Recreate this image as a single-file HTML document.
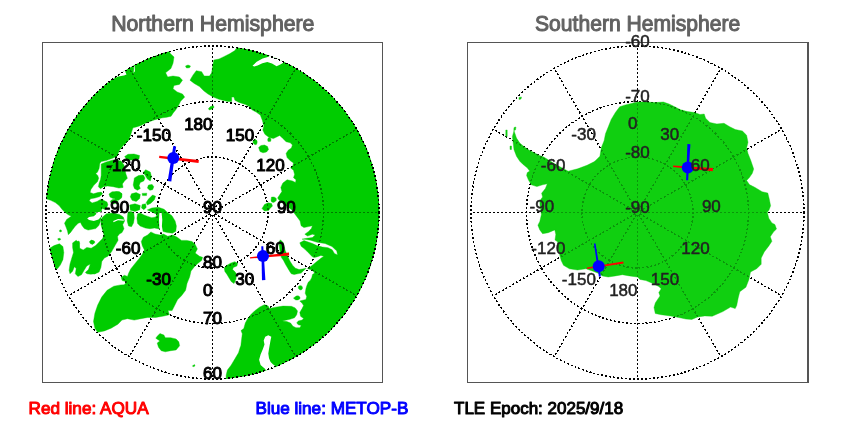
<!DOCTYPE html>
<html><head><meta charset="utf-8"><title>Satellite polar plot</title>
<style>html,body{margin:0;padding:0;background:#fff;overflow:hidden}body{width:850px;height:425px;font-family:"Liberation Sans",sans-serif}svg{display:block;will-change:transform}text{font-family:"Liberation Sans",sans-serif}.lb{font-size:17px;fill:#000;stroke:#000;stroke-width:1.05px;stroke-linejoin:round}.ls{font-size:17px;fill:#222;stroke:#222;stroke-width:.5px;stroke-linejoin:round}.ft{font-size:17px;stroke-width:1.0px;stroke-linejoin:round}.tt{font-size:22px;fill:#626262;stroke:#626262;stroke-width:1.05px;stroke-linejoin:round}.g{fill:none;stroke:#000;stroke-width:1.5;stroke-dasharray:2 2;shape-rendering:crispEdges}.land{fill:#00cc00;stroke:#00cc00;stroke-width:.4;stroke-linejoin:round}.fr{fill:none;stroke:#555;stroke-width:1;shape-rendering:crispEdges}</style></head><body>
<svg width="850" height="425" viewBox="0 0 850 425">
<rect width="850" height="425" fill="#fff"/>
<defs><clipPath id="cn"><circle cx="212.5" cy="212.5" r="167"/></clipPath><clipPath id="cs"><circle cx="637.5" cy="212.5" r="167"/></clipPath></defs>
<g class="g">
<circle cx="212.5" cy="212.5" r="166.50"/>
<circle cx="212.5" cy="212.5" r="111.00"/>
<circle cx="212.5" cy="212.5" r="55.50"/>
<line x1="212.50" y1="215.00" x2="212.50" y2="379.00"/>
<line x1="213.75" y1="214.67" x2="295.75" y2="356.69"/>
<line x1="214.67" y1="213.75" x2="356.69" y2="295.75"/>
<line x1="215.00" y1="212.50" x2="379.00" y2="212.50"/>
<line x1="214.67" y1="211.25" x2="356.69" y2="129.25"/>
<line x1="213.75" y1="210.33" x2="295.75" y2="68.31"/>
<line x1="212.50" y1="210.00" x2="212.50" y2="46.00"/>
<line x1="211.25" y1="210.33" x2="129.25" y2="68.31"/>
<line x1="210.33" y1="211.25" x2="68.31" y2="129.25"/>
<line x1="210.00" y1="212.50" x2="46.00" y2="212.50"/>
<line x1="210.33" y1="213.75" x2="68.31" y2="295.75"/>
<line x1="211.25" y1="214.67" x2="129.25" y2="356.69"/>
</g>
<g class="g">
<circle cx="637.5" cy="212.5" r="166.50"/>
<circle cx="637.5" cy="212.5" r="111.00"/>
<circle cx="637.5" cy="212.5" r="55.50"/>
<line x1="637.50" y1="215.00" x2="637.50" y2="379.00"/>
<line x1="638.75" y1="214.67" x2="720.75" y2="356.69"/>
<line x1="639.67" y1="213.75" x2="781.69" y2="295.75"/>
<line x1="640.00" y1="212.50" x2="804.00" y2="212.50"/>
<line x1="639.67" y1="211.25" x2="781.69" y2="129.25"/>
<line x1="638.75" y1="210.33" x2="720.75" y2="68.31"/>
<line x1="637.50" y1="210.00" x2="637.50" y2="46.00"/>
<line x1="636.25" y1="210.33" x2="554.25" y2="68.31"/>
<line x1="635.33" y1="211.25" x2="493.31" y2="129.25"/>
<line x1="635.00" y1="212.50" x2="471.00" y2="212.50"/>
<line x1="635.33" y1="213.75" x2="493.31" y2="295.75"/>
<line x1="636.25" y1="214.67" x2="554.25" y2="356.69"/>
</g>
<g clip-path="url(#cn)" class="land">
<path d="M169.8,45.0 169.8,53.1 174.0,57.0 173.0,63.3 170.9,68.6 165.6,72.8 167.7,77.0 173.0,76.0 179.4,77.0 182.5,80.2 179.4,84.4 174.0,85.5 173.0,88.7 177.2,91.9 182.5,94.0 184.7,97.1 180.6,101.3 178.5,105.6 175.8,109.8 173.2,113.0 171.1,116.2 166.9,117.2 162.6,117.8 158.4,118.8 154.2,119.9 149.9,121.5 145.7,123.0 141.5,125.2 137.2,126.7 133.0,127.8 131.9,131.0 130.9,134.2 129.8,137.3 128.8,140.0 126.0,143.0 123.6,145.0 119.6,150.0 116.8,156.4 111.8,158.5 106.2,160.6 101.2,161.6 99.8,163.4 99.1,168.4 97.4,172.3 95.7,173.4 97.7,175.4 98.7,178.2 97.4,181.8 93.8,185.3 90.9,189.5 90.1,192.4 93.5,193.8 97.7,192.6 101.2,192.1 102.6,193.8 99.8,196.6 94.9,198.0 90.6,198.7 89.2,200.8 92.1,202.9 97.0,201.5 100.5,199.4 102.6,200.8 103.0,203.0 102.0,208.0 101.0,214.0 101.1,217.9 100.4,221.7 98.8,225.5 95.8,228.6 92.0,229.3 88.1,230.1 84.3,228.6 82.0,225.5 80.5,222.4 78.2,223.2 75.2,226.3 72.9,229.3 70.6,232.4 68.3,234.7 67.5,230.9 66.0,227.0 64.5,223.2 66.7,219.4 71.3,216.3 68.3,214.8 65.2,212.5 62.2,209.5 59.1,205.6 55.3,202.6 50.7,200.3 46.1,198.8 38.0,198.0 30.0,120.0 60.0,50.0 120.0,30.0Z"/>
<path d="M190.0,80.2 193.1,74.9 196.3,70.7 201.6,71.7 204.2,76.0 209.5,76.0 211.6,72.8 212.7,66.5 213.8,60.1 219.0,59.0 223.3,56.9 229.6,53.8 234.9,50.6 239.2,44.0 300.0,40.0 385.0,120.0 392.0,212.0 385.0,300.0 330.0,372.0 262.0,395.0 226.0,392.0 226.2,375.0 227.4,370.1 231.1,365.2 234.8,359.0 238.5,352.8 240.3,347.0 240.8,346.0 241.5,339.9 242.3,333.8 241.0,330.6 243.8,328.4 245.3,323.0 247.2,319.5 250.9,314.6 254.6,310.9 259.5,307.2 264.4,304.7 268.1,305.9 269.4,308.4 275.6,307.2 283.0,306.1 291.4,306.3 295.2,307.9 297.5,310.9 296.7,314.7 294.5,317.8 289.9,319.3 282.2,320.9 286.8,321.6 290.6,323.1 292.9,326.2 296.0,327.7 299.8,327.7 301.3,325.4 298.3,324.7 296.7,323.1 298.3,320.9 302.1,320.1 303.6,318.6 300.6,316.3 299.8,312.4 302.1,308.6 303.6,305.6 302.1,303.3 299.8,301.0 302.9,300.2 305.9,299.5 306.7,296.4 305.2,293.3 305.9,288.8 306.8,285.8 308.2,282.3 310.4,280.2 311.8,277.4 312.5,274.5 314.6,273.1 313.2,271.0 310.4,269.6 307.5,268.6 310.4,266.8 313.9,263.9 317.4,261.1 320.9,258.3 323.8,256.2 320.9,255.5 316.7,256.9 313.9,257.6 311.8,256.2 308.2,252.6 304.7,249.1 301.2,246.3 299.8,242.8 304.0,240.6 308.2,242.0 312.5,243.5 316.7,245.6 322.4,247.0 328.0,247.7 332.2,249.8 334.4,253.4 337.5,255.0 336.8,251.0 332.0,246.5 325.0,243.5 317.1,242.3 310.5,240.2 304.8,239.2 302.0,239.2 306.7,238.3 312.4,237.6 315.2,235.1 312.4,234.2 307.6,236.1 304.8,234.2 308.6,231.4 311.4,228.5 312.4,225.7 308.6,226.6 303.9,227.6 301.1,225.7 300.1,221.0 297.3,217.2 294.5,213.5 292.0,210.0 285.0,205.0 279.0,200.0 277.6,198.0 279.7,194.8 281.9,191.6 280.8,187.4 282.9,183.0 287.1,179.8 292.4,180.9 295.5,182.5 296.0,179.8 293.5,177.7 294.6,174.6 293.5,170.3 290.5,167.8 292.4,167.1 293.5,162.9 290.3,160.8 287.1,157.6 286.1,153.4 288.2,150.2 291.4,148.1 292.4,144.9 290.3,142.8 286.1,141.7 282.9,138.6 279.7,135.4 277.6,136.5 273.4,138.6 269.2,137.5 264.9,134.3 262.8,130.1 263.9,125.9 263.5,124.7 262.4,120.4 260.3,115.1 256.1,112.0 251.9,109.8 249.7,106.7 245.5,104.6 239.2,102.4 234.9,100.3 233.9,97.1 231.7,97.1 231.7,101.4 227.5,101.4 219.0,99.3 213.2,97.1 208.0,94.0 203.7,90.8 199.5,86.6 194.2,83.4Z"/>
<path d="M185.5,66.0 188.0,65.0 190.5,66.0 189.5,67.8 186.5,68.0Z"/>
<path d="M208.5,108.5 210.5,106.5 213.5,105.8 214.0,107.5 211.5,109.3 209.2,110.0Z"/>
<path d="M257.1,142.7 256.6,144.3 255.1,144.7 253.9,143.8 253.0,142.8 253.2,141.2 254.0,139.9 255.4,139.3 256.5,140.3 257.1,141.4Z"/>
<path d="M258.6,147.5 261.0,145.5 264.5,145.0 267.5,146.5 268.5,149.5 266.5,152.0 263.0,152.8 260.0,151.5Z"/>
<path d="M271.0,139.8 270.7,141.3 269.7,141.5 268.9,141.6 267.9,141.2 267.7,139.8 268.0,138.3 268.9,137.8 269.8,137.5 270.6,138.4Z"/>
<path d="M276.1,198.6 276.4,200.2 275.2,201.6 273.5,202.4 271.7,202.0 271.1,200.4 271.2,199.0 271.5,197.1 273.5,197.0 275.1,197.4Z"/>
<path d="M262.0,208.5 264.5,204.5 268.0,202.8 271.5,203.5 272.5,206.0 270.0,208.5 268.5,210.5 264.5,211.0Z"/>
<path d="M280.4,239.8 283.2,242.6 285.1,250.2 287.9,256.8 289.9,261.1 292.7,265.4 295.5,268.2 299.1,269.6 302.6,268.9 306.1,268.2 303.3,271.0 301.2,273.1 297.6,273.8 294.1,274.5 291.3,273.8 289.9,271.7 287.8,268.2 285.6,264.6 283.5,260.4 281.4,257.6 280.3,253.0 279.2,245.5 279.2,241.7Z"/>
<path d="M302.6,288.0 302.1,289.1 301.2,290.0 299.9,289.8 298.9,289.1 298.3,288.0 298.4,286.5 299.7,285.7 301.3,285.7 302.2,286.8Z"/>
<path d="M300.1,297.9 299.6,299.1 298.0,299.9 295.9,300.0 294.4,299.1 293.5,297.9 295.0,297.0 296.1,296.1 298.1,295.8 299.6,296.7Z"/>
<path d="M224.2,268.1 227.0,265.3 230.5,263.2 234.8,261.7 237.6,263.2 236.9,266.0 233.3,267.4 232.6,269.5 234.8,271.6 236.5,274.0 236.0,279.0 234.0,283.6 231.2,281.5 229.1,278.0 227.0,274.4 224.9,271.6Z"/>
<path d="M141.3,241.5 143.4,237.2 147.6,235.1 150.8,231.9 155.0,234.0 160.3,235.1 163.5,234.0 167.7,236.2 173.0,235.1 177.2,237.2 181.5,240.4 186.8,240.4 192.1,241.5 195.2,244.6 197.4,248.9 195.2,253.1 199.5,256.3 202.6,257.3 201.6,260.5 197.4,263.7 194.2,266.9 191.0,271.1 189.7,276.8 187.0,283.5 185.6,290.3 181.5,295.7 177.5,299.8 174.8,305.2 172.1,310.6 168.0,310.6 169.4,314.7 163.9,316.0 155.8,317.4 147.7,317.4 140.9,318.7 134.2,320.1 127.4,318.7 122.0,320.1 117.9,324.2 111.1,328.2 104.4,330.9 97.6,332.3 94.9,328.2 93.5,321.4 94.9,313.3 97.6,305.2 101.7,297.1 107.1,290.3 113.8,286.2 120.6,284.9 124.3,284.8 126.5,281.7 122.2,280.6 121.2,277.4 124.3,275.3 127.5,276.4 128.6,273.2 130.7,269.0 134.9,263.7 139.2,258.4 142.3,254.2 144.4,249.9 142.3,245.7Z"/>
<path d="M157.2,336.3 159.9,333.6 163.9,335.0 165.3,337.7 170.7,337.7 176.1,339.0 178.8,341.8 179.6,345.8 176.1,349.9 170.7,350.7 165.3,351.8 161.2,350.7 158.5,347.2 157.2,343.1 159.9,340.9 155.8,338.2Z"/>
<path d="M192.5,365.8 194.5,364.6 195.0,366.0 193.0,366.8Z"/>
<path d="M147.3,209.9 151.8,208.0 158.3,207.3 164.1,209.2 167.4,212.5 171.9,215.7 175.1,220.9 176.4,226.1 175.8,231.3 172.5,233.2 167.4,232.6 162.2,231.3 158.3,228.7 154.4,228.0 149.9,228.7 145.3,228.0 140.2,226.1 137.6,223.5 136.9,218.3 137.6,213.8 140.2,213.1 144.0,215.1 147.9,216.4 151.8,217.7 155.7,217.0 157.0,214.4 153.0,212.5Z"/>
<path d="M128.0,212.0 131.0,211.5 133.8,213.0 134.3,218.0 133.5,223.0 131.5,226.7 128.5,226.0 127.2,221.0 127.5,216.0Z"/>
<path d="M102.6,217.0 106.5,213.8 113.0,213.1 119.4,214.4 123.3,217.0 124.6,220.9 122.7,224.8 124.0,228.7 122.0,232.6 119.4,233.9 117.5,236.5 118.1,240.3 115.0,245.6 111.5,251.8 107.9,256.2 104.4,257.9 101.8,261.5 100.9,267.6 99.1,272.1 94.7,273.8 90.3,272.9 88.5,269.4 90.3,264.1 86.8,265.9 84.1,270.3 81.5,274.7 77.9,276.5 75.3,273.8 76.2,268.5 74.4,266.8 72.6,271.2 70.0,273.8 69.1,270.3 70.0,264.1 71.8,257.9 73.5,252.6 72.6,247.4 72.6,242.9 76.2,240.3 78.8,242.9 79.7,248.2 83.2,250.0 86.8,247.4 91.2,248.2 95.6,245.6 99.1,242.1 102.6,238.5 104.0,235.0 102.5,230.0 101.0,225.0 101.0,220.0Z"/>
<path d="M49.7,248.2 54.1,245.6 59.4,243.8 62.9,246.5 63.8,252.6 62.9,259.7 60.3,265.0 57.6,268.5 54.0,270.0 48.0,262.0 46.0,252.0Z"/>
<path d="M94.8,242.1 94.3,243.2 92.8,243.7 91.3,243.6 90.3,242.9 89.4,242.1 90.0,241.0 91.2,240.2 92.7,240.5 94.2,240.9Z"/>
<path d="M93.9,242.3 93.4,243.4 92.7,244.4 91.5,244.0 90.4,243.6 90.1,242.3 90.6,241.3 91.4,240.3 92.5,240.6 93.6,241.1Z"/>
<path d="M79.4,245.8 79.0,248.9 77.4,249.2 75.9,249.9 75.5,247.4 75.4,245.0 75.9,241.9 77.5,241.4 79.0,241.0 79.7,243.1Z"/>
<path d="M60.6,239.3 60.3,239.9 59.6,240.1 58.7,240.4 58.3,239.8 57.8,239.3 57.9,238.6 58.8,238.5 59.6,238.3 60.4,238.7Z"/>
<path d="M61.6,230.9 61.4,231.5 60.9,232.0 60.3,231.8 59.6,231.6 59.4,230.9 59.7,230.2 60.3,230.0 60.9,229.8 61.3,230.3Z"/>
<path d="M98.8,270.1 98.0,271.9 95.1,273.8 90.6,274.2 87.0,273.8 85.3,272.5 87.1,270.7 89.7,269.0 93.9,268.2 97.9,268.4Z"/>
<path d="M101.2,164.1 106.2,162.0 113.2,159.9 121.0,161.0 124.0,165.0 125.9,174.0 127.4,178.2 124.5,181.1 122.4,183.9 123.1,187.4 118.9,188.1 113.2,186.7 107.6,186.0 103.4,186.7 100.5,188.8 98.4,186.7 99.1,183.2 100.5,179.6 101.2,175.4 101.2,169.8Z"/>
<path d="M109.0,194.0 112.0,191.8 117.0,191.6 121.5,193.5 121.7,197.0 118.0,198.7 113.0,198.5 110.0,197.0Z"/>
<path d="M124.7,156.5 128.0,154.3 134.0,154.0 139.5,155.5 139.0,159.0 133.0,160.0 127.0,160.0Z"/>
<path d="M134.4,177.9 138.5,175.6 143.2,175.0 145.0,177.9 143.8,180.9 140.3,182.6 139.1,185.6 140.3,188.5 137.4,190.3 134.4,188.5 133.2,185.0 133.8,181.5Z"/>
<path d="M145.6,169.7 150.3,172.1 151.5,176.8 150.3,180.9 147.4,179.1 145.0,175.0 143.2,172.6Z"/>
<path d="M148.5,185.0 152.1,184.4 153.8,186.8 152.6,189.7 149.7,190.3 147.4,187.9Z"/>
<path d="M115.0,192.1 119.1,191.5 122.1,193.8 121.5,197.9 118.5,200.3 115.0,199.7Z"/>
<path d="M131.5,193.8 136.2,192.6 140.3,194.4 139.7,198.5 136.2,201.5 132.1,200.3 130.3,196.8Z"/>
<path d="M152.6,195.0 155.6,196.2 154.4,199.7 150.9,203.2 147.4,205.0 146.2,202.6 148.5,199.1Z"/>
<path d="M142.1,204.4 145.6,203.8 146.2,207.4 143.8,209.7 141.5,207.9Z"/>
<path d="M129.7,205.0 135.0,203.8 140.3,205.6 139.7,209.7 135.0,211.5 130.3,210.3Z"/>
<path d="M142.1,193.4 146.8,193.2 146.5,195.6 142.5,195.6Z"/>
<path d="M107.9,204.7 106.9,207.2 105.3,209.5 102.8,208.7 100.7,207.4 100.2,204.7 100.8,202.1 102.5,199.7 104.9,201.0 107.0,202.1Z"/>
<path d="M118.1,201.8 117.0,203.0 115.0,203.5 112.7,204.0 111.1,202.9 110.3,201.8 110.9,200.5 112.7,199.5 115.5,199.2 117.2,200.4Z"/>
</g>
<g clip-path="url(#cn)" fill="#fff">
<path d="M268.6,56.7 262.6,58.4 256.7,61.8 252.5,65.8 254.2,66.5 257.6,65.4 262.4,63.3 267.3,62.0 272.0,63.5 276.6,66.2 280.8,64.3 285.5,61.4 280.4,54.8 272.0,52.7Z"/>
<path d="M268.3,335.3 265.2,336.8 263.7,340.6 264.5,344.5 262.9,349.0 260.6,354.4 259.1,359.7 260.6,365.1 265.2,368.9 268.0,375.0 278.0,370.0 275.2,365.9 272.9,364.3 270.6,362.0 269.0,358.2 268.3,353.6 269.0,349.0 269.8,344.5 270.6,339.9 271.3,336.8Z"/>
<path d="M159.3,213.2 161.6,212.8 162.3,219.8 161.9,226.3 162.9,232.1 160.5,232.9 159.3,228.0 159.0,219.8Z"/>
<path d="M95.2,212.4 102.3,211.5 103.2,213.8 101.4,216.6 98.5,219.5 93.8,220.9 89.1,219.9 87.2,218.5 89.1,217.1 93.8,216.2 96.6,213.8Z"/>
<path d="M113.2,221.0 118.0,219.0 123.8,219.5 123.8,220.7 118.0,220.3 113.5,222.3Z"/>
<path d="M110.0,80.5 118.2,76.4 124.0,75.6 126.5,74.4 125.2,71.5 126.5,69.4 128.9,67.4 133.0,65.7 133.0,62.0 108.0,77.0Z"/>
<path d="M133.6,65.5 134.6,66.0 134.9,71.3 133.5,72.9 133.9,69.0Z"/>
</g>
<g clip-path="url(#cs)" class="land" style="fill:#10cf10;stroke:#10cf10">
<path d="M514.0,130.7 516.5,138.1 519.8,143.1 524.7,147.2 529.7,150.5 534.6,152.9 539.5,155.4 543.7,157.1 547.0,159.0 555.0,164.0 563.5,168.8 568.2,171.2 577.6,168.8 587.0,165.3 594.0,161.8 595.6,160.5 599.9,156.3 601.3,147.8 604.1,140.7 605.5,133.7 608.4,126.6 611.2,119.5 615.4,112.5 619.7,106.8 625.3,104.9 632.4,103.2 638.0,102.0 646.5,102.0 655.0,102.6 663.4,102.0 669.1,104.0 674.7,106.8 680.4,109.7 687.5,111.6 694.5,112.5 700.0,114.5 704.2,114.0 705.6,118.2 709.9,122.5 716.9,123.9 724.0,123.3 729.7,126.7 735.3,129.5 742.4,131.0 746.6,135.2 748.0,142.3 746.6,147.9 748.0,153.6 750.8,160.6 753.7,169.1 752.3,173.3 749.4,177.6 746.6,180.4 749.4,184.6 755.1,187.5 762.1,191.7 767.8,193.1 769.2,198.8 770.6,205.8 769.0,210.0 767.3,212.2 768.8,218.3 771.9,222.9 774.9,224.5 776.5,229.0 773.4,232.1 770.3,236.7 771.9,241.3 768.8,245.9 764.2,252.0 761.2,258.1 761.2,264.2 756.6,268.8 750.5,271.9 748.9,279.5 745.9,287.2 739.8,291.7 738.2,297.9 736.7,305.5 735.2,308.6 730.6,307.0 722.9,311.6 712.2,316.2 704.7,315.9 697.6,317.0 691.8,319.4 685.9,319.0 678.8,317.5 670.6,315.9 661.2,314.7 655.3,313.5 654.0,307.6 655.3,303.0 657.6,299.4 660.0,295.9 658.8,292.4 661.2,288.8 658.8,286.5 651.8,283.0 645.9,280.6 640.0,279.4 637.6,277.0 629.4,275.9 622.4,274.7 615.3,275.9 608.2,277.0 602.4,275.9 598.8,273.5 593.0,271.2 585.9,268.8 577.6,270.0 569.4,268.8 563.5,265.3 561.2,260.6 560.0,255.9 558.0,248.0 557.6,241.8 555.0,240.0 555.8,234.6 554.8,229.9 548.2,232.7 542.6,233.7 539.8,229.9 537.9,225.2 539.8,221.5 541.4,214.5 540.0,205.3 539.8,200.8 542.6,197.0 541.6,193.2 545.4,188.5 547.3,183.8 542.6,184.8 536.9,186.6 531.3,184.8 528.5,180.1 526.6,175.5 527.2,172.7 529.7,171.1 527.2,167.8 523.1,164.5 519.8,161.2 516.5,156.2 514.0,149.7 513.2,143.1 512.4,136.5Z"/>
<path d="M519.0,97.5 521.5,97.0 521.0,99.0 519.0,99.5Z"/>
<path d="M514.0,127.5 516.0,127.0 515.5,130.0 513.8,130.5Z"/>
<path d="M505.8,130.0 507.2,130.0 507.2,136.5 505.8,136.5Z"/>
<path d="M510.0,146.0 511.5,146.0 511.5,149.5 510.0,149.5Z"/>
</g>
<g class="g" opacity="0.4">
<circle cx="212.5" cy="212.5" r="166.50"/>
<circle cx="212.5" cy="212.5" r="111.00"/>
<circle cx="212.5" cy="212.5" r="55.50"/>
<line x1="212.50" y1="215.00" x2="212.50" y2="379.00"/>
<line x1="213.75" y1="214.67" x2="295.75" y2="356.69"/>
<line x1="214.67" y1="213.75" x2="356.69" y2="295.75"/>
<line x1="215.00" y1="212.50" x2="379.00" y2="212.50"/>
<line x1="214.67" y1="211.25" x2="356.69" y2="129.25"/>
<line x1="213.75" y1="210.33" x2="295.75" y2="68.31"/>
<line x1="212.50" y1="210.00" x2="212.50" y2="46.00"/>
<line x1="211.25" y1="210.33" x2="129.25" y2="68.31"/>
<line x1="210.33" y1="211.25" x2="68.31" y2="129.25"/>
<line x1="210.00" y1="212.50" x2="46.00" y2="212.50"/>
<line x1="210.33" y1="213.75" x2="68.31" y2="295.75"/>
<line x1="211.25" y1="214.67" x2="129.25" y2="356.69"/>
</g>
<g class="g" opacity="0.27">
<circle cx="637.5" cy="212.5" r="166.50"/>
<circle cx="637.5" cy="212.5" r="111.00"/>
<circle cx="637.5" cy="212.5" r="55.50"/>
<line x1="637.50" y1="215.00" x2="637.50" y2="379.00"/>
<line x1="638.75" y1="214.67" x2="720.75" y2="356.69"/>
<line x1="639.67" y1="213.75" x2="781.69" y2="295.75"/>
<line x1="640.00" y1="212.50" x2="804.00" y2="212.50"/>
<line x1="639.67" y1="211.25" x2="781.69" y2="129.25"/>
<line x1="638.75" y1="210.33" x2="720.75" y2="68.31"/>
<line x1="637.50" y1="210.00" x2="637.50" y2="46.00"/>
<line x1="636.25" y1="210.33" x2="554.25" y2="68.31"/>
<line x1="635.33" y1="211.25" x2="493.31" y2="129.25"/>
<line x1="635.00" y1="212.50" x2="471.00" y2="212.50"/>
<line x1="635.33" y1="213.75" x2="493.31" y2="295.75"/>
<line x1="636.25" y1="214.67" x2="554.25" y2="356.69"/>
</g>
<g class="g"><circle cx="212.5" cy="212.5" r="166.50"/><circle cx="637.5" cy="212.5" r="166.50"/></g>
<rect class="fr" x="42.5" y="42.5" width="340" height="340"/>
<rect class="fr" x="467.5" y="42.5" width="340" height="340"/>
<line class="fr" x1="808.5" y1="42" x2="808.5" y2="383"/>
<path d="M159.1,158.1 198.5,163.1 198.9,159.9 159.3,155.7Z" fill="#f00"/>
<path d="M173.3,146.1 167.7,181.0 171.3,181.6 176.1,146.5Z" fill="#00f"/>
<circle cx="173.3" cy="158" r="6" fill="#00f"/>
<path d="M250.1,258.5 289.2,255.5 289.0,252.5 249.9,257.3Z" fill="#f00"/>
<path d="M261.3,246.2 262.0,280.2 265.4,280.0 263.3,246.2Z" fill="#00f"/>
<circle cx="263" cy="256.1" r="6" fill="#00f"/>
<path d="M673.0,167.0 712.8,171.3 713.0,167.9 673.2,165.6Z" fill="#f00"/>
<path d="M687.4,144.1 686.1,180.2 688.1,180.2 690.4,144.3Z" fill="#00f"/>
<circle cx="687.8" cy="167.5" r="6" fill="#00f"/>
<path d="M587.0,268.9 623.6,263.5 623.2,261.5 586.8,267.5Z" fill="#f00"/>
<path d="M593.9,243.6 598.9,276.8 600.9,276.4 595.5,243.4Z" fill="#00f"/>
<circle cx="598.7" cy="266.3" r="6" fill="#00f"/>
<text class="lb" x="212.5" y="296.1" text-anchor="end">0</text>
<text class="ls" x="637.5" y="129.2" text-anchor="end">0</text>
<text class="lb" x="254.1" y="284.9" text-anchor="end">30</text>
<text class="ls" x="679.1" y="140.3" text-anchor="end">30</text>
<text class="lb" x="284.6" y="254.4" text-anchor="end">60</text>
<text class="ls" x="709.6" y="170.8" text-anchor="end">60</text>
<text class="lb" x="295.8" y="212.8" text-anchor="end">90</text>
<text class="ls" x="720.8" y="212.4" text-anchor="end">90</text>
<text class="lb" x="284.6" y="171.2" text-anchor="end">120</text>
<text class="ls" x="709.6" y="254.0" text-anchor="end">120</text>
<text class="lb" x="254.1" y="140.7" text-anchor="end">150</text>
<text class="ls" x="679.1" y="284.5" text-anchor="end">150</text>
<text class="lb" x="212.5" y="129.6" text-anchor="end">180</text>
<text class="ls" x="637.5" y="295.6" text-anchor="end">180</text>
<text class="lb" x="170.9" y="140.7" text-anchor="end">-150</text>
<text class="ls" x="595.9" y="284.5" text-anchor="end">-150</text>
<text class="lb" x="140.4" y="171.2" text-anchor="end">-120</text>
<text class="ls" x="565.4" y="254.0" text-anchor="end">-120</text>
<text class="lb" x="129.2" y="212.8" text-anchor="end">-90</text>
<text class="ls" x="554.2" y="212.4" text-anchor="end">-90</text>
<text class="lb" x="140.4" y="254.4" text-anchor="end">-60</text>
<text class="ls" x="565.4" y="170.8" text-anchor="end">-60</text>
<text class="lb" x="170.9" y="284.9" text-anchor="end">-30</text>
<text class="ls" x="595.9" y="140.3" text-anchor="end">-30</text>
<text class="lb" x="212.5" y="379.3" text-anchor="middle">60</text>
<text class="ls" x="637.5" y="46.5" text-anchor="middle">-60</text>
<text class="lb" x="212.5" y="323.8" text-anchor="middle">70</text>
<text class="ls" x="637.5" y="102.0" text-anchor="middle">-70</text>
<text class="lb" x="212.5" y="268.3" text-anchor="middle">80</text>
<text class="ls" x="637.5" y="157.5" text-anchor="middle">-80</text>
<text class="lb" x="212.5" y="212.8" text-anchor="middle">90</text>
<text class="ls" x="637.5" y="213.0" text-anchor="middle">-90</text>
<text class="tt" x="212.8" y="30.8" text-anchor="middle" textLength="203.3" lengthAdjust="spacingAndGlyphs">Northern Hemisphere</text>
<text class="tt" x="637.7" y="30.8" text-anchor="middle" textLength="205.3" lengthAdjust="spacingAndGlyphs">Southern Hemisphere</text>
<text class="ft" x="28.5" y="413.5" fill="#f00" stroke="#f00" textLength="120.1" lengthAdjust="spacingAndGlyphs">Red line: AQUA</text>
<text class="ft" x="255.5" y="413.5" fill="#00f" stroke="#00f" textLength="152.8" lengthAdjust="spacingAndGlyphs">Blue line: METOP-B</text>
<text class="ft" x="454" y="413.5" fill="#000" stroke="#000">TLE Epoch: 2025/9/18</text>
</svg></body></html>
